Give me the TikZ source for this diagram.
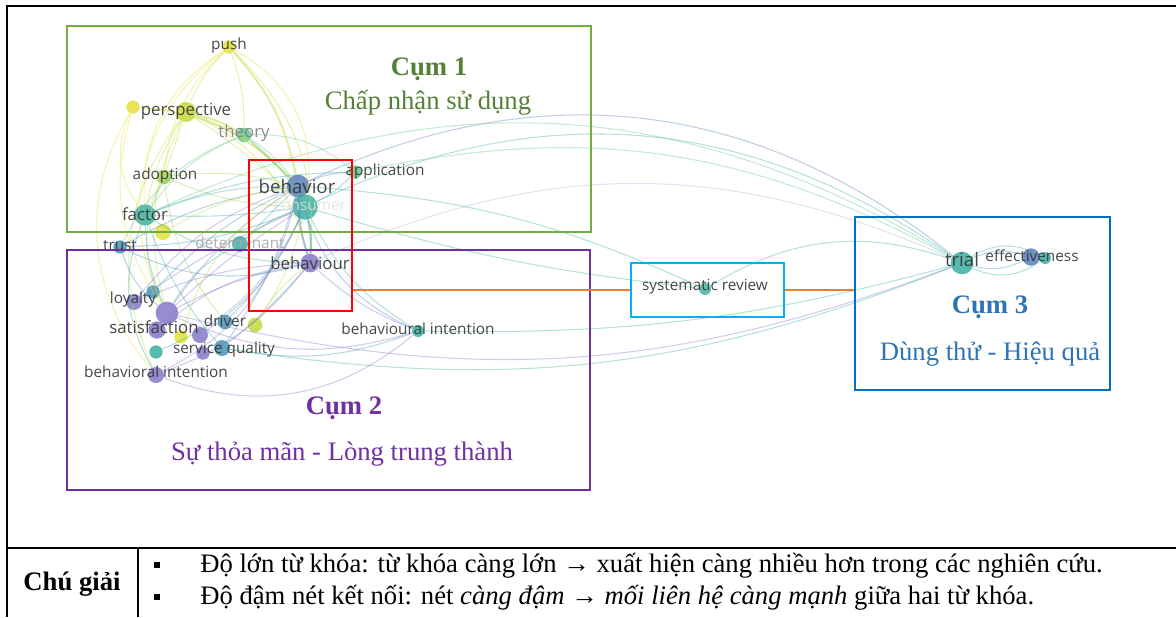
\documentclass[tikz,border=0pt]{standalone}
\usepackage{fontspec}
\setmainfont{Liberation Serif}
\newfontfamily\vosf{Open Sans}
\definecolor{cyel}{HTML}{E3E03A}
\definecolor{cylg}{HTML}{C4D83E}
\definecolor{clg}{HTML}{A3D152}
\definecolor{cgr}{HTML}{63C98B}
\definecolor{ctl}{HTML}{3BAFA3}
\definecolor{ctb}{HTML}{4596B3}
\definecolor{cbl}{HTML}{5A7DB8}
\definecolor{cpu}{HTML}{8478C8}
\definecolor{bgreen}{HTML}{70AD47}
\definecolor{tgreen}{HTML}{538135}
\definecolor{bpurple}{HTML}{7030A0}
\definecolor{bcyan}{HTML}{00B0F0}
\definecolor{bblue}{HTML}{0070C0}
\definecolor{tblue}{HTML}{2E74B5}
\definecolor{corange}{HTML}{ED7D31}
\definecolor{lbl}{HTML}{333333}
\tikzset{
  kw/.style={circle, inner sep=0pt, minimum size=#1, fill opacity=0.85, draw=none},
  lab/.style={text=lbl, text opacity=0.9, inner sep=0pt, font=\vosf\fontsize{11.5}{13}\selectfont},
  labb/.style={lab, font=\vosf\fontsize{12.6}{14}\selectfont},
  labc/.style={lab, font=\vosf\fontsize{14}{16}\selectfont},
  ed/.style={draw=#1, line width=0.8pt, draw opacity=0.38},
  edt/.style={draw=#1, line width=1.6pt, draw opacity=0.45},
  cbox/.style={draw=#1, line width=1.9pt, inner sep=0pt, fill=none},
  ctitle/.style={text=#1, font=\bfseries\fontsize{20}{24}\selectfont},
  csub/.style={text=#1, font=\fontsize{20}{24}\selectfont},
  frame/.style={line width=2.2pt, black},
  legtxt/.style={anchor=west, inner sep=0pt, font=\fontsize{20}{24}\selectfont},
  bullet/.style={fill=black, inner sep=0pt, minimum size=5pt}
}
\begin{document}
\begin{tikzpicture}[x={(0.75pt,0)}, y={(0,-0.75pt)}]
\useasboundingbox (0,0) rectangle (1176,617);
% ---------- keyword nodes ----------
\node[kw=10pt, fill=cyel] (push) at (229,47) {};
\node[kw=10pt, fill=cyel] (yel1) at (133,107) {};
\node[kw=15pt, fill=cylg] (perspective) at (186,112) {};
\node[kw=11pt, fill=cgr] (theory) at (244,135) {};
\node[kw=11pt, fill=clg] (adoption) at (164,177) {};
\node[kw=17pt, fill=cbl] (behavior) at (298,186) {};
\node[kw=19pt, fill=ctl] (consumer) at (305,207) {};
\node[kw=10pt, fill=cgr] (application) at (355,172) {};
\node[kw=16pt, fill=ctl] (factor) at (145,215) {};
\node[kw=12pt, fill=cyel] (yel2) at (163,232) {};
\node[kw=10pt, fill=ctb] (trust) at (120,247) {};
\node[kw=12pt, fill=ctl] (determinant) at (240,244) {};
\node[kw=14pt, fill=cpu] (behaviour) at (310,263) {};
\node[kw=10pt, fill=ctb] (tb1) at (153,292) {};
\node[kw=12pt, fill=cpu] (loyalty) at (134,302) {};
\node[kw=17pt, fill=cpu] (satisfaction) at (167,313) {};
\node[kw=13pt, fill=cpu] (sat2) at (157,330) {};
\node[kw=10pt, fill=cyel] (yel3) at (181,337) {};
\node[kw=11pt, fill=ctb] (driver) at (225,322) {};
\node[kw=11pt, fill=cylg] (lg2) at (255,325) {};
\node[kw=12pt, fill=cpu] (pur3) at (200,335) {};
\node[kw=12pt, fill=ctb] (servicequality) at (222,348) {};
\node[kw=10pt, fill=cpu] (pur4) at (203,353) {};
\node[kw=10pt, fill=ctl] (teal3) at (156,352) {};
\node[kw=12pt, fill=cpu] (behavioralint) at (156,375) {};
\node[kw=9pt, fill=ctl] (behaviouralint) at (418,331) {};
\node[kw=9pt, fill=ctl!80!cgr] (sysreview) at (705,289) {};
\node[kw=17pt, fill=ctl] (trial) at (962,263) {};
\node[kw=13pt, fill=cbl] (effectiveness) at (1031,257) {};
\node[kw=9pt, fill=ctl] (teal4) at (1045,258) {};
% ---------- connectors ----------
\draw[ed=cylg] (push) to[bend right=10] (perspective);
\draw[edt=cylg] (push) to[bend left=15] (behavior);
\draw[ed=cyel] (push) to[bend right=20] (adoption);
\draw[ed=cyel] (push) to[bend right=30] (factor);
\draw[ed=cyel] (push) to[bend left=35] (consumer);
\draw[ed=cyel] (push) to[bend right=40] (satisfaction);
\draw[ed=cylg] (push) to[bend left=10] (theory);
\draw[ed=cylg] (push) to[bend left=25] (behaviour);
\draw[ed=cyel] (yel1) to (perspective);
\draw[ed=cyel] (yel1) to[bend right=30] (factor);
\draw[ed=cyel] (yel1) to[bend right=35] (behavioralint);
\draw[ed=cyel] (yel1) to[bend left=20] (behavior);
\draw[ed=cyel] (yel1) to[bend right=25] (satisfaction);
\draw[edt=cylg] (perspective) to[bend left=8] (theory);
\draw[edt=cylg] (perspective) to[bend left=12] (behavior);
\draw[ed=cylg] (perspective) to (adoption);
\draw[ed=cylg] (perspective) to[bend right=10] (factor);
\draw[ed=cylg] (perspective) to[bend left=5] (consumer);
\draw[ed=cylg] (perspective) to[bend right=20] (satisfaction);
\draw[ed=cylg] (perspective) to[bend left=25] (behaviour);
\draw[ed=cylg] (perspective) to[bend right=30] (behavioralint);
\draw[ed=cgr] (theory) to (behavior);
\draw[ed=cgr] (theory) to[bend left=10] (consumer);
\draw[ed=cgr] (theory) to[bend right=15] (factor);
\draw[ed=cgr] (theory) to[bend right=20] (trust);
\draw[ed=cgr] (theory) to[bend left=30] (behaviour);
\draw[ed=cgr] (theory) to[bend left=20] (application);
\draw[ed=clg] (adoption) to (factor);
\draw[ed=clg] (adoption) to[bend left=10] (behavior);
\draw[ed=clg] (adoption) to[bend right=10] (consumer);
\draw[ed=clg] (adoption) to[bend right=25] (satisfaction);
\draw[ed=clg] (adoption) to[bend right=15] (driver);
\draw[ed=ctl] (factor) to[bend left=10] (behavior);
\draw[ed=ctl] (factor) to[bend right=5] (consumer);
\draw[ed=ctl] (factor) to[bend right=10] (satisfaction);
\draw[ed=ctl] (factor) to[bend right=25] (behavioralint);
\draw[ed=ctl] (factor) to[bend right=15] (behaviour);
\draw[ed=ctl] (factor) to[bend left=10] (application);
\draw[ed=ctl] (factor) to[bend right=10] (servicequality);
\draw[edt=cbl] (behavior) to (consumer);
\draw[edt=cbl] (behavior) to[bend right=8] (behaviour);
\draw[edt=ctl] (consumer) to[bend left=8] (behaviour);
\draw[ed=cbl] (behavior) to[bend left=10] (application);
\draw[ed=ctl] (consumer) to[bend right=10] (application);
\draw[ed=ctb] (trust) to[bend left=10] (behavior);
\draw[ed=ctb] (trust) to[bend right=15] (satisfaction);
\draw[ed=ctb] (trust) to[bend right=10] (consumer);
\draw[ed=ctb] (trust) to[bend right=20] (behaviour);
\draw[ed=ctl] (determinant) to (behavior);
\draw[ed=ctl] (determinant) to[bend left=10] (consumer);
\draw[ed=ctl] (determinant) to[bend right=15] (satisfaction);
\draw[ed=cpu] (loyalty) to[bend left=15] (behavior);
\draw[ed=cpu] (loyalty) to[bend left=10] (behaviour);
\draw[ed=cpu] (loyalty) to[bend left=5] (consumer);
\draw[ed=cpu] (satisfaction) to[bend left=10] (behavior);
\draw[ed=cpu] (satisfaction) to[bend left=5] (consumer);
\draw[ed=cpu] (satisfaction) to[bend left=8] (behaviour);
\draw[ed=cpu] (satisfaction) to[bend right=20] (behaviouralint);
\draw[ed=ctb] (servicequality) to[bend right=10] (behavior);
\draw[ed=ctb] (servicequality) to[bend right=15] (behaviouralint);
\draw[ed=ctb] (servicequality) to[bend right=5] (behaviour);
\draw[ed=ctb] (driver) to[bend right=10] (consumer);
\draw[ed=cylg] (lg2) to[bend right=10] (consumer);
\draw[ed=cylg] (lg2) to[bend left=10] (behaviour);
\draw[ed=cylg] (yel2) to[bend left=10] (behavior);
\draw[ed=cylg] (yel3) to[bend left=20] (behavior);
\draw[ed=cpu] (behavioralint) to[bend right=25] (behavior);
\draw[ed=cpu] (behavioralint) to[bend right=30] (behaviouralint);
\draw[ed=cpu] (behavioralint) to[bend right=15] (behaviour);
\draw[ed=cpu] (pur3) to[bend right=15] (consumer);
\draw[ed=cpu] (sat2) to[bend left=15] (behaviour);
\draw[ed=ctl] (teal3) to[bend right=20] (consumer);
\draw[ed=ctb] (tb1) to[bend left=10] (behavior);
\draw[ed=cpu] (behaviour) to[bend right=10] (behaviouralint);
\draw[ed=ctl] (consumer) to[bend right=15] (behaviouralint);
\draw[ed=cbl] (behavior) to[bend right=25] (behaviouralint);
% long arcs
\draw[ed=cbl] (behavior) to[bend left=32] (trial);
\draw[ed=ctl] (consumer) to[bend left=30] (trial);
\draw[ed=cgr] (factor) to[bend left=28] (trial);
\draw[ed=cpu!60] (behaviour) to[bend left=24] (trial);
\draw[ed=cgr] (application) to[bend left=20] (trial);
\draw[ed=ctl] (behavior) to[bend left=10] (sysreview);
\draw[ed=ctl] (consumer) to[bend right=5] (sysreview);
\draw[ed=cpu] (satisfaction) to[bend right=17] (trial);
\draw[ed=ctl] (servicequality) to[bend right=15] (trial);
\draw[ed=ctl] (sysreview) to[bend left=25] (trial);
\draw[ed=ctl] (behaviouralint) to[bend right=8] (trial);
\draw[ed=ctb] (trial) to[bend left=20] (effectiveness);
\draw[ed=ctb] (trial) to[bend right=20] (effectiveness);
\draw[ed=ctl] (trial) to[bend left=30] (teal4);
\draw[ed=ctl] (trial) to[bend right=30] (teal4);
% ---------- labels ----------
\node[lab] (push-l) at (229,46) {push};
\node[labb] (perspective-l) at (186,111) {perspective};
\node[labb, text=gray] (theory-l) at (244,133) {theory};
\node[lab] (adoption-l) at (165,176) {adoption};
\node[lab, text=black!12] (consumer-l) at (310,206) {consumer};
\node[labc] (behavior-l) at (297,186) {behavior};
\node[lab] (application-l) at (385,172) {application};
\node[labb] (factor-l) at (145,214) {factor};
\node[lab] (trust-l) at (120,246) {trust};
\node[lab, text=black!35] (determinant-l) at (240,243) {determinant};
\node[labb] (behaviour-l) at (310,263) {behaviour};
\node[lab] (loyalty-l) at (133,300) {loyalty};
\node[labb] (satisfaction-l) at (154,327) {satisfaction};
\node[lab] (driver-l) at (225,321) {driver};
\node[lab] (servicequality-l) at (224,350) {service quality};
\node[lab] (behavioralint-l) at (156,372) {behavioral intention};
\node[lab] (behaviouralint-l) at (418,329) {behavioural intention};
\node[lab] (sysreview-l) at (705,287) {systematic review};
\node[labc] (trial-l) at (962,259) {trial};
\node[lab] (effectiveness-l) at (1032,256) {effectiveness};
% ---------- cluster boxes ----------
\node[cbox=bgreen, minimum width=393pt, minimum height=154.5pt] (c1) at (329,129) {};
\node[cbox=bpurple, minimum width=392.25pt, minimum height=180pt] (c2) at (328.5,370) {};
\node[cbox=red, minimum width=77.25pt, minimum height=113.25pt] (rbox) at (300.5,235.5) {};
\node[cbox=bcyan, line width=1.7pt, minimum width=114.75pt, minimum height=40.5pt] (sbox) at (707.5,290) {};
\node[cbox=bblue, minimum width=191.25pt, minimum height=129.75pt] (c3) at (982.5,303.5) {};
\draw[corange, line width=1.4pt] (sbox.west) -- (sbox.west -| rbox.east);
\draw[corange, line width=1.4pt] (sbox.east) -- (sbox.east -| c3.west);
\node[ctitle=tgreen] (c1t) at (429,69) {Cụm 1};
\node[csub=tgreen] (c1s) at (428,103) {Chấp nhận sử dụng};
\node[ctitle=bpurple] (c2t) at (344,408) {Cụm 2};
\node[csub=bpurple] (c2s) at (342,454) {Sự thỏa mãn - Lòng trung thành};
\node[ctitle=tblue] (c3t) at (990,307) {Cụm 3};
\node[csub=tblue] (c3s) at (990,354) {Dùng thử - Hiệu quả};
% ---------- frame and legend ----------
\coordinate (fbl) at (7,617);
\coordinate (ftl) at (7,6);
\coordinate (ftr) at (1176,6);
\coordinate (fml) at (7,548);
\coordinate (fmr) at (1176,548);
\coordinate (dtop) at (138,548);
\coordinate (dbot) at (138,617);
\draw[frame] (fbl) -- (ftl) -- (ftr);
\draw[frame] (fml) -- (fmr);
\draw[frame] (dtop) -- (dbot);
\node[font=\bfseries\fontsize{20}{24}\selectfont] (leg) at (72,584) {Chú giải};
\node[bullet] (b1) at (157,565) {};
\node[bullet] (b2) at (157,597) {};
\node[legtxt] (l1) at (200,566) {Độ lớn từ khóa: từ khóa càng lớn → xuất hiện càng nhiều hơn trong các nghiên cứu.};
\node[legtxt] (l2) at (200,598) {Độ đậm nét kết nối: nét \textit{càng đậm → mối liên hệ càng mạnh} giữa hai từ khóa.};
\end{tikzpicture}
\end{document}
